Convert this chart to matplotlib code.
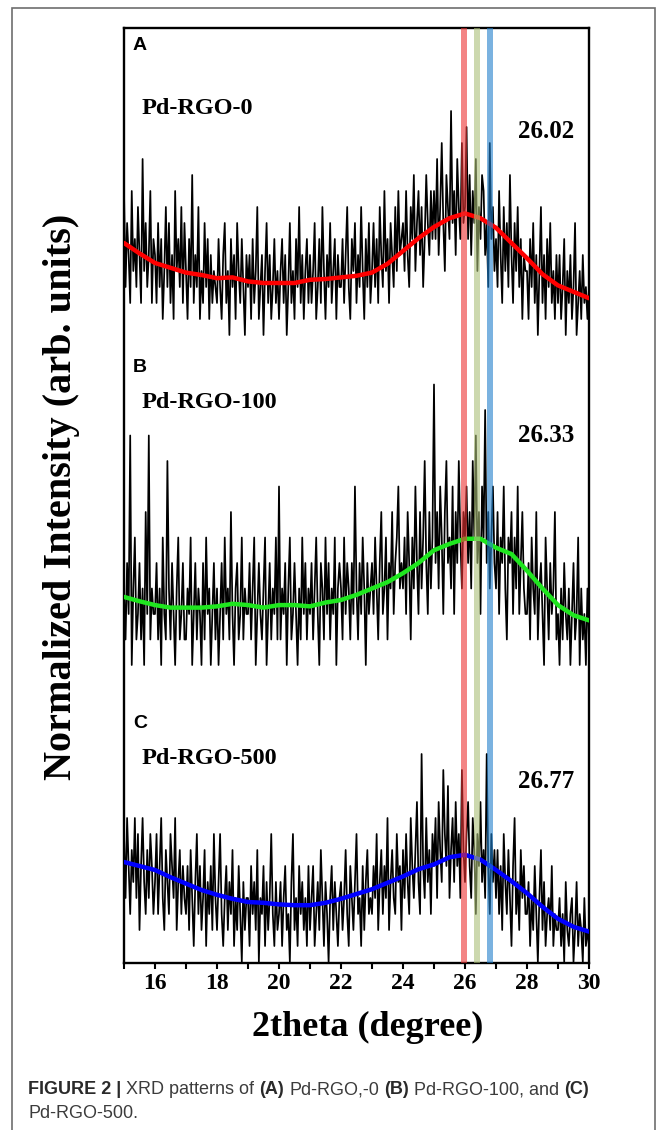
import numpy as np
import matplotlib
matplotlib.use("Agg")
import matplotlib.pyplot as plt
from matplotlib.patches import Rectangle
from matplotlib.ticker import FixedLocator, MultipleLocator

# ---------------- data ----------------
theta_start = 15.0
theta_step = 0.05          # raw pattern step (degrees)
smooth_step = 0.5          # smoothed curve step (degrees)

# raw intensity levels, one hex digit per point (15.00 ... 30.00 deg)
counts_A = ("937529463852b4735926" "52736148372519463827" "4163a253814273615243"
            "26315724063517426305" "35162481350472513624" "14625037241638251462"
            "52471362841537246153" "36258316472538416372" "47362853946275384956"
            "7495386a4795836a7596" "96b58c74a86e795b86c7" "8d6a597b486a9573c684"
            "639528473a5274836154" "41637250482516372415" "25136042513702415231" "3")
counts_B = ("31429035124130629132" "24130521831420351241" "13250241320415230241"
            "30241523162034125132" "24135024213502413251" "71324035124203152413"
            "24135204315241325034" "31524314273142530423" "42531462351436245734"
            "35264153742635842635" "b4637526845372648536" "5746385946275a463574"
            "36254731546253724632" "24153261342053142361" "20314213024125031203" "1")
counts_C = ("84963759482695374863" "58369427538649257364" "36274158362471536284"
            "25831462537142630524" "41635270436152483152" "35146230582416352416"
            "24613527415304625314" "52473164258341625734" "36482573649257438562"
            "748539647a53d6495738" "694a75c86b4795a684c7" "58a6497386a574d63857"
            "47362853741693527463" "35142630472513426132" "24130521340251320412" "1")

# smoothed curves (same level units), 15.0 ... 30.0 every 0.5 deg
smooth_A = [5.75, 5.1, 4.5, 4.2, 3.9, 3.75, 3.55, 3.6, 3.35, 3.25, 3.25, 3.25, 3.45,
            3.5, 3.6, 3.7, 3.9, 4.45, 5.25, 6.05, 6.75, 7.3, 7.6, 7.3, 6.7, 5.75,
            4.8, 3.8, 3.1, 2.7, 2.3]
smooth_B = [2.67, 2.5, 2.35, 2.25, 2.25, 2.25, 2.3, 2.4, 2.35, 2.25, 2.35, 2.35, 2.3,
            2.45, 2.55, 2.75, 3.0, 3.25, 3.6, 4.0, 4.5, 4.75, 4.95, 4.95, 4.6, 4.35,
            3.7, 3.0, 2.35, 1.95, 1.75]
smooth_C = [6.25, 6.0, 5.75, 5.3, 4.9, 4.5, 4.2, 3.95, 3.75, 3.7, 3.6, 3.55, 3.55,
            3.7, 3.95, 4.25, 4.55, 4.95, 5.35, 5.8, 6.1, 6.55, 6.7, 6.4, 5.75, 5.05,
            4.3, 3.45, 2.7, 2.2, 1.9]

panel_letters = ["A", "B", "C"]
sample_names = ["Pd-RGO-0", "Pd-RGO-100", "Pd-RGO-500"]
peak_labels = ["26.02", "26.33", "26.77"]
band_centers = [25.96, 26.40, 26.80]
xtick_values = [16, 18, 20, 22, 24, 26, 28, 30]

# ---------------- figure ----------------
W, H = 667, 1130
plt.rcParams["font.family"] = ["Liberation Serif", "DejaVu Serif"]
fig = plt.figure(figsize=(W / 100, H / 100), dpi=100)

AX_L, AX_R, AX_T, AX_B = 124, 589, 28, 963
ax = fig.add_axes([AX_L / W, (H - AX_B) / H, (AX_R - AX_L) / W, (AX_B - AX_T) / H])
PX = 16.0  # pixels per y unit
ax.set_xlim(15, 30)
ax.set_ylim(0, (AX_B - AX_T) / PX)


def ax_xy(px, py):
    return ((px - AX_L) / (AX_R - AX_L), (AX_B - py) / (AX_B - AX_T))


def parse(s):
    return np.array([int(c, 16) for c in s], dtype=float)


# stacking: baseline pixel row of level 0 and pixels per level for each panel
panels = [
    dict(counts=counts_A, smooth=smooth_A, base=335, lvl=16.0, color="#ff0000"),
    dict(counts=counts_B, smooth=smooth_B, base=665, lvl=25.5, color="#1fe61f"),
    dict(counts=counts_C, smooth=smooth_C, base=962, lvl=16.0, color="#0000ff"),
]

for p in panels:
    c = parse(p["counts"])
    theta = theta_start + theta_step * np.arange(len(c))
    off = (AX_B - p["base"]) / PX
    sc = p["lvl"] / PX
    ax.plot(theta, off + sc * c, color="black", lw=1.25, zorder=2)
    s = np.array(p["smooth"])
    ts = theta_start + smooth_step * np.arange(len(s))
    ax.plot(ts, off + sc * s, color=p["color"], lw=3.2, zorder=3,
            solid_capstyle="round", solid_joinstyle="round")

band_colors = [(0.92, 0.2, 0.2), (0.67, 0.75, 0.47), (0.13, 0.5, 0.8)]
for bc, col in zip(band_centers, band_colors):
    ax.axvspan(bc - 0.095, bc + 0.095, color=col, alpha=0.6, lw=0, zorder=4)

# axes styling
for sp in ax.spines.values():
    sp.set_linewidth(1.7)
ax.set_yticks([])
ax.xaxis.set_major_locator(FixedLocator(xtick_values))
ax.xaxis.set_minor_locator(MultipleLocator(1))
ax.tick_params(axis="x", which="major", direction="out", length=4.5, width=1.5,
               labelsize=17, pad=3, top=False)
ax.tick_params(axis="x", which="minor", direction="out", length=4, width=1.5, top=False)
for lbl in ax.get_xticklabels():
    lbl.set_fontweight("bold")

# panel texts
letter_rows = [45, 368, 723]
name_rows = [109, 402, 758]
peak_rows = [132, 436, 781]
for i in range(3):
    ax.text(*ax_xy(133, letter_rows[i]), panel_letters[i], transform=ax.transAxes,
            ha="left", va="center", fontsize=14, fontweight="bold",
            family=["Liberation Sans", "DejaVu Sans"])
    ax.text(*ax_xy(142, name_rows[i]), sample_names[i], transform=ax.transAxes,
            ha="left", va="center", fontsize=17.5, fontweight="bold")
    ax.text(*ax_xy(518, peak_rows[i]), peak_labels[i], transform=ax.transAxes,
            ha="left", va="center", fontsize=18, fontweight="bold")

# axis titles
fig.text(62 / W, 1 - 497 / H, "Normalized Intensity (arb. units)", rotation=90,
         ha="center", va="center", fontsize=29, fontweight="bold")
fig.text(368 / W, 1 - 1027 / H, "2theta (degree)", ha="center", va="center",
         fontsize=26, fontweight="bold")

# outer frame
fig.add_artist(Rectangle((12 / W, (H - 1145) / H), (655 - 12) / W, (1145 - 8) / H,
                         transform=fig.transFigure, fill=False, edgecolor="#6e6e6e",
                         lw=1.2))

# caption
renderer = fig.canvas.get_renderer()
cap_font = ["Liberation Sans", "DejaVu Sans"]


def caption_line(segs, x0, y, size):
    arts = []
    x = x0
    space = 0.278 * size * 100 / 72
    for txt, bold in segs:
        t = fig.text(x / W, 1 - y / H, txt, ha="left", va="center", fontsize=size,
                     fontweight="bold" if bold else "normal", family=cap_font,
                     color="#2a2a2a" if bold else "#3c3c3c")
        w = t.get_window_extent(renderer=renderer).width
        arts.append(t)
        x += w + space
    return arts, x - space - x0


line1 = [("FIGURE 2 |", True), ("XRD patterns of", False), ("(A)", True),
         ("Pd-RGO,-0", False), ("(B)", True), ("Pd-RGO-100, and", False), ("(C)", True)]
arts, width = caption_line(line1, 28, 1090, 12)
for a in arts:
    a.remove()
size = 12 * 563 / width
caption_line(line1, 28, 1090, size)
caption_line([("Pd-RGO-500.", False)], 28, 1114, size)

fig.savefig("out.png", dpi=100)
